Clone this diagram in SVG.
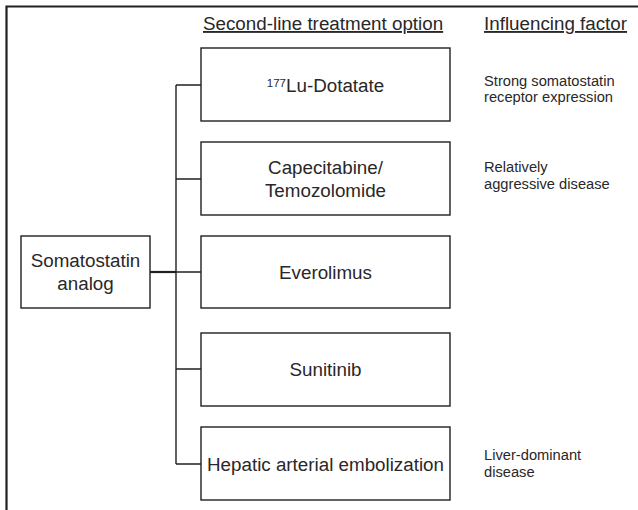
<svg xmlns="http://www.w3.org/2000/svg" width="638" height="510" viewBox="0 0 638 510">
<style>
.frame{fill:none;stroke:#231f20;stroke-width:2.2}
.box{fill:#fff;stroke:#231f20;stroke-width:1.4}
.con{fill:none;stroke:#231f20;stroke-width:1.4}
.t{font-family:"Liberation Sans",Arial,sans-serif;font-size:18.8px;fill:#2a2728;text-anchor:middle}
.h{font-family:"Liberation Sans",Arial,sans-serif;font-size:18.8px;fill:#2a2728;text-decoration:underline}
.s{font-family:"Liberation Sans",Arial,sans-serif;font-size:14.7px;fill:#2a2728}
</style>
<rect width="638" height="510" fill="#fff"/>
<path class="frame" d="M6.5,510 V6.5 H638"/>
<g id="headers">
<text class="h" x="203" y="30">Second-line treatment option</text>
<text class="h" x="484" y="30">Influencing factor</text>
</g>
<g id="connectors">
<path class="con" d="M176,85 V464 M176,85 H201 M176,179 H201 M176,272 H201 M176,369 H201 M176,464 H201"/>
<path class="con" style="stroke-width:2.2" d="M150,272 H176"/>
</g>
<g id="somatostatin">
<rect class="box" x="21" y="236" width="129" height="72"/>
<text class="t" x="85.5" y="267">Somatostatin</text>
<text class="t" x="85.5" y="290">analog</text>
</g>
<g id="lu-dotatate">
<rect class="box" x="201" y="48" width="249" height="73"/>
<text class="t" x="325.5" y="92"><tspan font-size="11.5" dy="-5">177</tspan><tspan dy="5">Lu-Dotatate</tspan></text>
</g>
<g id="capecitabine">
<rect class="box" x="201" y="142" width="249" height="73"/>
<text class="t" x="325.5" y="174">Capecitabine/</text>
<text class="t" x="325.5" y="197">Temozolomide</text>
</g>
<g id="everolimus">
<rect class="box" x="201" y="236" width="249" height="72"/>
<text class="t" x="325.5" y="278.5">Everolimus</text>
</g>
<g id="sunitinib">
<rect class="box" x="201" y="333" width="249" height="73"/>
<text class="t" x="325.5" y="376">Sunitinib</text>
</g>
<g id="hepatic">
<rect class="box" x="201" y="427" width="249" height="73"/>
<text class="t" x="325.5" y="470.5">Hepatic arterial embolization</text>
</g>
<g id="factor-lu">
<text class="s" x="484" y="86">Strong somatostatin</text>
<text class="s" x="484" y="102">receptor expression</text>
</g>
<g id="factor-cap">
<text class="s" x="484" y="172">Relatively</text>
<text class="s" x="484" y="188.5">aggressive disease</text>
</g>
<g id="factor-hep">
<text class="s" x="484" y="460">Liver-dominant</text>
<text class="s" x="484" y="476.5">disease</text>
</g>
</svg>
